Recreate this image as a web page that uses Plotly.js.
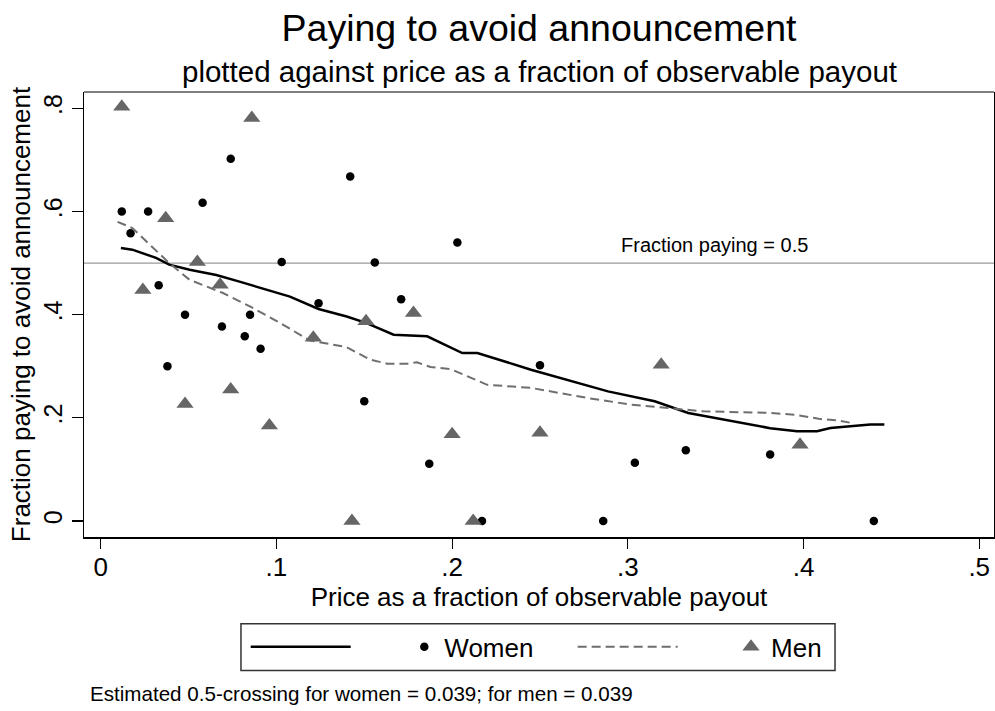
<!DOCTYPE html>
<html>
<head>
<meta charset="utf-8">
<script src="https://cdn.plot.ly/plotly-3.0.1.min.js"></script>
<style>
  html, body { margin: 0; padding: 0; background: #fff; }
  #chart { width: 995px; height: 711px; }
</style>
</head>
<body>
<div id="chart"></div>
<script>
// ---- Data ----
const womenX = [0.012, 0.017, 0.027, 0.033, 0.038, 0.048, 0.058, 0.069, 0.074, 0.082, 0.085, 0.091, 0.103, 0.124, 0.142, 0.150, 0.156, 0.171, 0.187, 0.203, 0.217, 0.250, 0.286, 0.304, 0.333, 0.381, 0.440];
const womenY = [0.600, 0.558, 0.600, 0.457, 0.300, 0.400, 0.617, 0.377, 0.702, 0.358, 0.400, 0.334, 0.502, 0.422, 0.668, 0.232, 0.501, 0.430, 0.111, 0.540, 0.000, 0.302, 0.000, 0.113, 0.137, 0.129, 0.000];

const menX = [0.012, 0.024, 0.037, 0.048, 0.055, 0.068, 0.074, 0.086, 0.096, 0.121, 0.143, 0.151, 0.178, 0.200, 0.212, 0.250, 0.319, 0.398];
const menY = [0.803, 0.448, 0.587, 0.227, 0.502, 0.458, 0.255, 0.781, 0.185, 0.355, 0.000, 0.387, 0.403, 0.168, 0.000, 0.171, 0.303, 0.148];

const womenSmoothX = [0.0115, 0.018, 0.0315, 0.039, 0.0506, 0.0658, 0.079, 0.0944, 0.1077, 0.124, 0.140, 0.151, 0.1667, 0.1858, 0.201, 0.2058, 0.2144, 0.2449, 0.2887, 0.3153, 0.3344, 0.381, 0.3963, 0.4077, 0.4153, 0.423, 0.4306, 0.438, 0.446];
const womenSmoothY = [0.529, 0.526, 0.510, 0.497, 0.487, 0.477, 0.464, 0.448, 0.435, 0.411, 0.3965, 0.384, 0.361, 0.358, 0.333, 0.3256, 0.3256, 0.2933, 0.2513, 0.232, 0.2095, 0.180, 0.174, 0.174, 0.1804, 0.1824, 0.185, 0.187, 0.187];

const menSmoothX = [0.0096, 0.018, 0.039, 0.0506, 0.0696, 0.0849, 0.102, 0.119, 0.140, 0.1534, 0.163, 0.1744, 0.180, 0.1877, 0.199, 0.2087, 0.220, 0.2449, 0.277, 0.302, 0.321, 0.343, 0.381, 0.3953, 0.4087, 0.4201, 0.429];
const menSmoothY = [0.580, 0.568, 0.500, 0.4675, 0.442, 0.416, 0.384, 0.350, 0.337, 0.3127, 0.305, 0.305, 0.3075, 0.2985, 0.2946, 0.280, 0.264, 0.258, 0.2385, 0.2255, 0.219, 0.2126, 0.2095, 0.206, 0.198, 0.1946, 0.189];

const threshold = 0.5;
const crossingWomen = 0.039;
const crossingMen = 0.039;

const xTickVals = [0, 0.1, 0.2, 0.3, 0.4, 0.5];
const xTickText = ['0', '.1', '.2', '.3', '.4', '.5'];
const yTickVals = [0, 0.2, 0.4, 0.6, 0.8];
const yTickText = ['0', '.2', '.4', '.6', '.8'];

// ---- Chart ----
const FONT = 'Liberation Sans, Arial, Helvetica, sans-serif';

const traces = [
  {
    x: womenSmoothX, y: womenSmoothY, type: 'scatter', mode: 'lines',
    name: '', line: { color: '#000000', width: 2.5 },
    legend: 'legend', hoverinfo: 'skip'
  },
  {
    x: womenX, y: womenY, type: 'scatter', mode: 'markers',
    name: 'Women', marker: { symbol: 'circle', size: 8.5, color: '#000000' },
    legend: 'legend2'
  },
  {
    x: menSmoothX, y: menSmoothY, type: 'scatter', mode: 'lines',
    name: '', line: { color: '#6e6e6e', width: 2, dash: '9px,5px' },
    legend: 'legend3', hoverinfo: 'skip'
  },
  {
    x: menX, y: menY, type: 'scatter', mode: 'markers',
    name: 'Men', marker: { symbol: 'triangle-up', size: 15, color: '#666666' },
    legend: 'legend4'
  }
];

function legendAt(x, w) {
  return {
    orientation: 'h', x: x, y: -0.2469, xanchor: 'left', yanchor: 'middle',
    xref: 'paper', yref: 'paper',
    bgcolor: 'rgba(0,0,0,0)', borderwidth: 0, itemwidth: w,
    font: { family: FONT, size: 26, color: '#000' }
  };
}

const layout = {
  width: 995, height: 711,
  margin: { l: 84, r: 1, t: 92, b: 174 },
  paper_bgcolor: '#ffffff', plot_bgcolor: '#ffffff',
  font: { family: FONT, color: '#000' },
  showlegend: true,
  title: {
    text: 'Paying to avoid announcement',
    font: { family: FONT, size: 37.5, color: '#000' },
    x: 0.5, xref: 'paper', xanchor: 'center',
    y: 1 - 28 / 711, yref: 'container', yanchor: 'middle'
  },
  xaxis: {
    range: [-0.0095, 0.5084],
    tickvals: xTickVals, ticktext: xTickText,
    ticks: 'outside', ticklen: 10, tickwidth: 1.2, tickcolor: '#000',
    tickfont: { family: FONT, size: 26, color: '#000' },
    ticklabelstandoff: -4,
    showgrid: false, zeroline: false,
    showline: true, linecolor: '#000', linewidth: 2,
    title: { text: 'Price as a fraction of observable payout', font: { family: FONT, size: 26, color: '#000' }, standoff: 0 },
    automargin: false
  },
  yaxis: {
    range: [-0.031, 0.8316],
    tickvals: yTickVals, ticktext: yTickText,
    tickangle: -90,
    ticks: 'outside', ticklen: 11, tickwidth: 1.2, tickcolor: '#000',
    tickfont: { family: FONT, size: 25, color: '#000' },
    showgrid: false, zeroline: false,
    showline: true, linecolor: '#000', linewidth: 1.2, mirror: true,
    title: { text: 'Fraction paying to avoid announcement', font: { family: FONT, size: 26, color: '#000' }, standoff: 0 },
    automargin: false
  },
  legend: legendAt(0.1777, 100),
  legend2: legendAt(0.352, 30),
  legend3: legendAt(0.537, 100),
  legend4: legendAt(0.711, 30),
  shapes: [
    { type: 'line', xref: 'paper', x0: 0, x1: 1, yref: 'y', y0: threshold, y1: threshold,
      line: { color: '#9a9a9a', width: 1.2 }, layer: 'below' },
    { type: 'line', xref: 'paper', x0: 0, x1: 1, yref: 'paper', y0: 1, y1: 1,
      line: { color: '#000', width: 1.2 } },
    { type: 'rect', xref: 'paper', yref: 'paper', x0: 0.1725, x1: 0.8253, y0: -0.2998, y1: -0.1947,
      line: { color: '#333', width: 1.5 }, fillcolor: 'rgba(0,0,0,0)' }
  ],
  annotations: [
    { xref: 'paper', yref: 'paper', x: 0.5, y: 1 + 20 / 444.7, xanchor: 'center', yanchor: 'middle',
      text: 'plotted against price as a fraction of observable payout', showarrow: false,
      font: { family: FONT, size: 29.5, color: '#000' } },
    { xref: 'x', yref: 'y', x: 0.3496, y: threshold, xanchor: 'center', yanchor: 'bottom', yshift: 5,
      text: 'Fraction paying = ' + threshold, showarrow: false,
      font: { family: FONT, size: 20, color: '#000' } },
    { xref: 'paper', yref: 'paper', x: 0.0044, y: -0.3515, xanchor: 'left', yanchor: 'middle',
      text: 'Estimated 0.5-crossing for women = ' + crossingWomen.toFixed(3) + '; for men = ' + crossingMen.toFixed(3),
      showarrow: false, font: { family: FONT, size: 20.6, color: '#000' } }
  ]
};

Plotly.newPlot('chart', traces, layout, { displayModeBar: false, staticPlot: true });
</script>
</body>
</html>
